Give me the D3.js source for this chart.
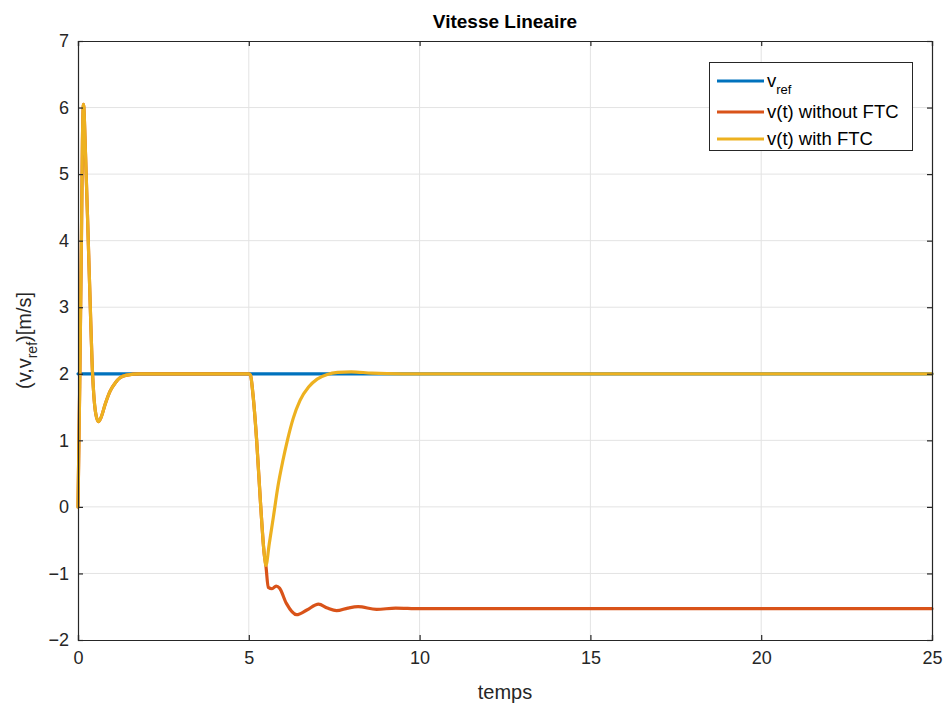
<!DOCTYPE html>
<html>
<head>
<meta charset="utf-8">
<script src="https://cdn.jsdelivr.net/npm/d3@7"></script>
<style>
  html, body { margin: 0; padding: 0; background: #fff; }
  svg { display: block; font-family: "Liberation Sans", Arial, sans-serif; }
</style>
</head>
<body>
<svg id="chart" width="946" height="708"></svg>
<script>
// ---- Data ----
const titleText = "Vitesse Lineaire";
const xLabel = "temps";
const xTicks = [0, 5, 10, 15, 20, 25];
const yTicks = [-2, -1, 0, 1, 2, 3, 4, 5, 6, 7];

// v_ref : constant reference
const vRef = [[0, 2], [25, 2]];

// v(t) with FTC
const vWithFTC = [
  [0, 0], [0.05, 1.8], [0.1, 4.0], [0.13, 5.5], [0.16, 6.05], [0.22, 5.3], [0.3, 4.0],
  [0.36, 3.0], [0.41, 2.2], [0.46, 1.7], [0.52, 1.4], [0.6, 1.28], [0.68, 1.35],
  [0.8, 1.55], [0.94, 1.74], [1.1, 1.87], [1.23, 1.94], [1.43, 1.98], [1.8, 2.0],
  [2.5, 2.0], [5.0, 2.0], [5.05, 1.98], [5.12, 1.7], [5.23, 1.0], [5.35, 0.0],
  [5.45, -0.7], [5.5, -0.88], [5.6, -0.55], [5.72, -0.15], [5.85, 0.3], [6.0, 0.7],
  [6.13, 1.0], [6.3, 1.33], [6.5, 1.6], [6.75, 1.8], [7.0, 1.92], [7.3, 1.99],
  [7.6, 2.02], [8.0, 2.03], [8.6, 2.01], [9.5, 2.0], [25, 2.0]
];

// v(t) without FTC
const vWithoutFTC = [
  [0, 0], [0.05, 1.8], [0.1, 4.0], [0.13, 5.5], [0.16, 6.05], [0.22, 5.3], [0.3, 4.0],
  [0.36, 3.0], [0.41, 2.2], [0.46, 1.7], [0.52, 1.4], [0.6, 1.28], [0.68, 1.35],
  [0.8, 1.55], [0.94, 1.74], [1.1, 1.87], [1.23, 1.94], [1.43, 1.98], [1.8, 2.0],
  [2.5, 2.0], [5.0, 2.0], [5.05, 1.98], [5.12, 1.7], [5.23, 1.0], [5.35, 0.0],
  [5.45, -0.7], [5.5, -0.88], [5.57, -1.21], [5.68, -1.23], [5.8, -1.19], [5.9, -1.22],
  [6.1, -1.45], [6.4, -1.62], [6.7, -1.55], [7.04, -1.46], [7.3, -1.52], [7.57, -1.56],
  [7.9, -1.52], [8.2, -1.50], [8.74, -1.54], [9.3, -1.52], [10, -1.53], [25, -1.53]
];

const seriesNames = ["v_ref", "v(t) without FTC", "v(t) with FTC"];
const seriesColors = ["#0072BD", "#D95319", "#EDB120"];

// ---- Layout ----
const svg = d3.select("#chart");
const plot = { left: 78, right: 932, top: 41, bottom: 640 };

const x = d3.scaleLinear().domain([0, 25]).range([plot.left, plot.right]);
const y = d3.scaleLinear().domain([-2, 7]).range([plot.bottom, plot.top]);

const axisColor = "#262626";
const gridColor = "#e3e3e3";

// Grid
const grid = svg.append("g");
grid.selectAll(".gx").data(xTicks.slice(1, -1)).enter().append("line")
  .attr("x1", d => x(d)).attr("x2", d => x(d))
  .attr("y1", plot.top).attr("y2", plot.bottom)
  .attr("stroke", gridColor).attr("stroke-width", 1);
grid.selectAll(".gy").data(yTicks.slice(1, -1)).enter().append("line")
  .attr("x1", plot.left).attr("x2", plot.right)
  .attr("y1", d => y(d)).attr("y2", d => y(d))
  .attr("stroke", gridColor).attr("stroke-width", 1);

// Lines
const line = d3.line().x(d => x(d[0])).y(d => y(d[1])).curve(d3.curveMonotoneX);
const lines = svg.append("g").attr("fill", "none").attr("stroke-width", 3.2)
  .attr("stroke-linejoin", "round").attr("stroke-linecap", "round");
[vRef, vWithoutFTC, vWithFTC].forEach((s, i) => {
  lines.append("path").datum(s).attr("d", line).attr("stroke", seriesColors[i]);
});

// Axes (MATLAB style: inward ticks, box)
const tickLen = 5;
const xAxis = d3.axisBottom(x).tickValues(xTicks).tickSize(-tickLen).tickPadding(11).tickFormat(d3.format("d"));
const yAxis = d3.axisLeft(y).tickValues(yTicks).tickSize(-tickLen).tickPadding(9).tickFormat(d3.format("d"));
const xTop = d3.axisTop(x).tickValues(xTicks).tickSize(-tickLen).tickFormat("");
const yRight = d3.axisRight(y).tickValues(yTicks).tickSize(-tickLen).tickFormat("");

function style(g) {
  g.selectAll("path.domain").attr("stroke", axisColor).attr("stroke-width", 1.2);
  g.selectAll(".tick line").attr("stroke", axisColor).attr("stroke-width", 1.2);
  g.selectAll(".tick text").attr("fill", axisColor).attr("font-size", 18)
    .attr("font-family", "'Liberation Sans', Arial, sans-serif");
}
svg.append("g").attr("transform", `translate(0,${plot.bottom})`).call(xAxis).call(style);
svg.append("g").attr("transform", `translate(${plot.left},0)`).call(yAxis).call(style);
svg.append("g").attr("transform", `translate(0,${plot.top})`).call(xTop).call(style);
svg.append("g").attr("transform", `translate(${plot.right},0)`).call(yRight).call(style);

// Title
svg.append("text").attr("x", (plot.left + plot.right) / 2).attr("y", 28)
  .attr("text-anchor", "middle").attr("font-weight", "bold").attr("font-size", 19)
  .attr("fill", "#000").text(titleText);

// X label
svg.append("text").attr("x", (plot.left + plot.right) / 2).attr("y", 699)
  .attr("text-anchor", "middle").attr("font-size", 20).attr("fill", axisColor).text(xLabel);

// Y label with subscript
const yl = svg.append("text").attr("transform", `translate(31,${(plot.top + plot.bottom) / 2}) rotate(-90)`)
  .attr("text-anchor", "middle").attr("font-size", 20).attr("fill", axisColor);
yl.append("tspan").text("(v,v");
yl.append("tspan").attr("font-size", 14).attr("dy", 6).text("ref");
yl.append("tspan").attr("dy", -6).text(")[m/s]");

// Legend
const leg = svg.append("g");
leg.append("rect").attr("x", 709.5).attr("y", 62.5).attr("width", 203).attr("height", 88)
  .attr("fill", "#fff").attr("stroke", axisColor).attr("stroke-width", 1);
const rowsY = [81, 112, 139];
seriesNames.forEach((name, i) => {
  leg.append("line").attr("x1", 717).attr("x2", 764).attr("y1", rowsY[i]).attr("y2", rowsY[i])
    .attr("stroke", seriesColors[i]).attr("stroke-width", 3.2);
  const t = leg.append("text").attr("x", 767).attr("y", rowsY[i] + 6)
    .attr("font-size", 18.5).attr("fill", "#000");
  if (i === 0) {
    t.append("tspan").text("v");
    t.append("tspan").attr("font-size", 13).attr("dy", 7).text("ref");
  } else {
    t.text(name);
  }
});
</script>
</body>
</html>
